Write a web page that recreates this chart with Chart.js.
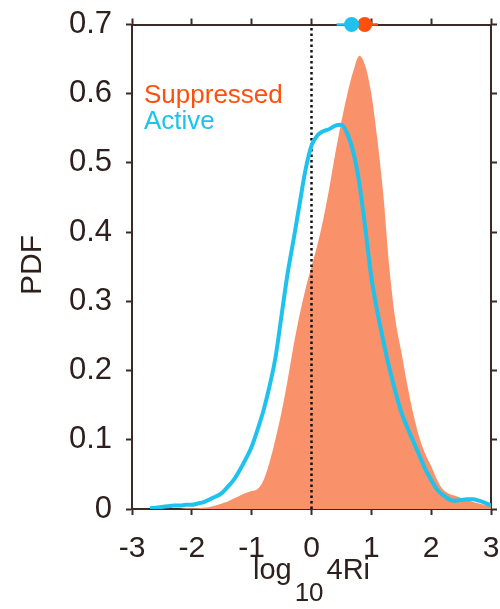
<!DOCTYPE html>
<html>
<head>
<meta charset="utf-8">
<script src="https://cdn.jsdelivr.net/npm/chart.js@4.4.0/dist/chart.umd.min.js"></script>
<style>
    html, body { margin: 0; padding: 0; background: #ffffff; }
    #wrap { width: 500px; height: 609px; position: relative; }
</style>
</head>
<body>
<div id="wrap"><canvas id="pdfChart"></canvas></div>
<script>
// Data
// ========================
const xValues = [
    -3.0, -2.9, -2.8, -2.7, -2.6, -2.5, -2.4, -2.3, -2.2, -2.1,
    -2.0, -1.9, -1.8, -1.7, -1.6, -1.5, -1.4, -1.3, -1.2, -1.1,
    -1.0, -0.9, -0.8, -0.7, -0.6, -0.5, -0.4, -0.3, -0.2, -0.1,
    0.0, 0.1, 0.2, 0.3, 0.4, 0.5, 0.6, 0.7, 0.8, 0.9,
    1.0, 1.1, 1.2, 1.3, 1.4, 1.5, 1.6, 1.7, 1.8, 1.9,
    2.0, 2.1, 2.2, 2.3, 2.4, 2.5, 2.6, 2.7, 2.8, 2.9,
    3.0
];

const suppressedPdf = [
    0, 0, 0, 0, 0, 0, 0, 0, 0, 0.001,
    0.001, 0.001, 0.002, 0.003, 0.005, 0.008, 0.011, 0.015, 0.019, 0.023,
    0.026, 0.029, 0.042, 0.068, 0.102, 0.140, 0.186, 0.236, 0.280, 0.318,
    0.350, 0.382, 0.420, 0.465, 0.515, 0.560, 0.600, 0.633, 0.655, 0.640,
    0.600, 0.535, 0.455, 0.350, 0.275, 0.228, 0.180, 0.138, 0.104, 0.080,
    0.062, 0.042, 0.028, 0.022, 0.019, 0.016, 0.013, 0.010, 0.008, 0.006,
    0.004
];

const activePdf = [
    null, null, null, 0.001, 0.002, 0.003, 0.004, 0.005, 0.005, 0.006,
    0.006, 0.008, 0.010, 0.014, 0.018, 0.023, 0.032, 0.042, 0.056, 0.072,
    0.090, 0.115, 0.143, 0.178, 0.220, 0.280, 0.340, 0.389, 0.440, 0.490,
    0.525, 0.540, 0.546, 0.549, 0.554, 0.555, 0.542, 0.515, 0.470, 0.405,
    0.335, 0.285, 0.243, 0.204, 0.170, 0.140, 0.118, 0.098, 0.078, 0.058,
    0.042, 0.028, 0.020, 0.014, 0.012, 0.013, 0.014, 0.014, 0.012, 0.009,
    0.005
];

// mean and spread markers drawn on the top axis
const activeMean = 0.67;
const activeRange = [0.42, 0.93];
const suppressedMean = 0.89;
const suppressedRange = [0.66, 1.11];
const markerLevel = 0.7;

const xTicks = [-3, -2, -1, 0, 1, 2, 3];
const yTicks = [0, 0.1, 0.2, 0.3, 0.4, 0.5, 0.6, 0.7];

// Colors / fonts
const AXIS_COLOR = '#3b2a26';
const TEXT_COLOR = '#2e201d';
const FILL_RED = '#f9916a';
const RED = '#ff4f0c';
const BLUE = '#1ec2ec';
const FONT = "'Liberation Sans', Arial, Helvetica, sans-serif";

function toPoints(xs, ys) {
    return xs.map((x, i) => ({ x: x, y: ys[i] }));
}

// Text that the built-in title/legend can't do (subscript, inline legend)
const labelsPlugin = {
    id: 'labels',
    afterDraw(chart) {
        const ctx = chart.ctx;
        const area = chart.chartArea;
        ctx.save();

        // inline legend
        ctx.font = '26px ' + FONT;
        ctx.textAlign = 'left';
        ctx.textBaseline = 'alphabetic';
        ctx.fillStyle = RED;
        ctx.fillText('Suppressed', area.left + 12, 103);
        ctx.fillStyle = BLUE;
        ctx.fillText('Active', area.left + 12, 129);

        // y axis title
        ctx.fillStyle = TEXT_COLOR;
        ctx.font = '30px ' + FONT;
        ctx.translate(41, 265);
        ctx.rotate(-Math.PI / 2);
        ctx.textAlign = 'center';
        ctx.fillText('PDF', 0, 0);
        ctx.setTransform(1, 0, 0, 1, 0, 0);

        // x axis title: log10 4Ri with subscript
        const big = '29px ' + FONT;
        const small = '26px ' + FONT;
        const gap = 3;
        ctx.font = big;
        const wLog = ctx.measureText('log').width;
        const wRi = ctx.measureText('4Ri').width;
        ctx.font = small;
        const wSub = ctx.measureText('10').width;
        const total = wLog + wSub + wRi + 2 * gap;
        let x = (area.left + area.right) / 2 - total / 2;
        const base = 579;
        ctx.textAlign = 'left';
        ctx.font = big;
        ctx.fillText('log', x, base);
        x += wLog + gap;
        ctx.font = small;
        ctx.fillText('10', x, base + 22);
        x += wSub + gap;
        ctx.font = big;
        ctx.fillText('4Ri', x, base);

        ctx.restore();
    }
};

// Fixed box sizes so the plot area lands where the original one is
function fixBox(size, key) {
    return function(s) {
        s[key] = size;
        s.paddingLeft = 0;
        s.paddingRight = 0;
        s.paddingTop = 0;
        s.paddingBottom = 0;
    };
}

const axisGrid = {
    drawOnChartArea: false,
    drawTicks: true,
    tickLength: 6,
    tickWidth: 2,
    color: AXIS_COLOR
};
const axisBorder = { display: true, color: AXIS_COLOR, width: 2 };

const ctx = document.getElementById('pdfChart');
const pdfChart = new Chart(ctx, {
    type: 'line',
    data: {
        datasets: [
            {
                label: 'Active mean',
                data: [{ x: activeMean, y: markerLevel }],
                showLine: false,
                pointRadius: 7.5,
                pointBackgroundColor: BLUE,
                pointBorderWidth: 0,
                clip: false,
                order: 0
            },
            {
                label: 'Suppressed mean',
                data: [{ x: suppressedMean, y: markerLevel }],
                showLine: false,
                pointRadius: 7.5,
                pointBackgroundColor: RED,
                pointBorderWidth: 0,
                clip: false,
                order: 1
            },
            {
                label: 'Active range',
                data: activeRange.map(v => ({ x: v, y: markerLevel })),
                borderColor: BLUE,
                borderWidth: 2.5,
                pointRadius: 0,
                clip: false,
                order: 2
            },
            {
                label: 'Suppressed range',
                data: suppressedRange.map(v => ({ x: v, y: markerLevel })),
                borderColor: RED,
                borderWidth: 2.5,
                pointRadius: 0,
                clip: false,
                order: 3
            },
            {
                label: 'Active',
                data: toPoints(xValues, activePdf),
                borderColor: BLUE,
                borderWidth: 4,
                pointRadius: 0,
                cubicInterpolationMode: 'monotone',
                fill: false,
                order: 4
            },
            {
                label: 'zero',
                data: [{ x: 0, y: 0 }, { x: 0, y: 0.7 }],
                borderColor: '#111111',
                borderWidth: 2.5,
                borderDash: [2.5, 3],
                pointRadius: 0,
                order: 5
            },
            {
                label: 'Suppressed',
                data: toPoints(xValues, suppressedPdf),
                borderWidth: 0,
                borderColor: FILL_RED,
                backgroundColor: FILL_RED,
                pointRadius: 0,
                cubicInterpolationMode: 'monotone',
                fill: 'origin',
                order: 6
            }
        ]
    },
    options: {
        responsive: true,
        maintainAspectRatio: false,
        animation: false,
        layout: { padding: 0 },
        plugins: {
            legend: { display: false },
            tooltip: { enabled: false }
        },
        scales: {
            x: {
                type: 'linear',
                position: 'bottom',
                min: -3,
                max: 3,
                afterBuildTicks: s => { s.ticks = xTicks.map(v => ({ value: v })); },
                afterFit: fixBox(100, 'height'),
                ticks: {
                    padding: 16,
                    color: TEXT_COLOR,
                    font: { family: FONT, size: 30 }
                },
                grid: axisGrid,
                border: axisBorder
            },
            x2: {
                type: 'linear',
                axis: 'x',
                position: 'top',
                min: -3,
                max: 3,
                afterBuildTicks: s => { s.ticks = xTicks.map(v => ({ value: v })); },
                afterFit: fixBox(24.5, 'height'),
                ticks: { display: false },
                grid: axisGrid,
                border: axisBorder
            },
            y: {
                type: 'linear',
                position: 'left',
                min: 0,
                max: 0.7,
                afterBuildTicks: s => { s.ticks = yTicks.map(v => ({ value: v })); },
                afterFit: fixBox(132, 'width'),
                ticks: {
                    padding: 14,
                    color: TEXT_COLOR,
                    font: { family: FONT, size: 31 },
                    callback: v => (v === 0 ? '0' : v.toFixed(1))
                },
                grid: axisGrid,
                border: axisBorder
            },
            y2: {
                type: 'linear',
                axis: 'y',
                position: 'right',
                min: 0,
                max: 0.7,
                afterBuildTicks: s => { s.ticks = yTicks.map(v => ({ value: v })); },
                afterFit: fixBox(9, 'width'),
                ticks: { display: false },
                grid: axisGrid,
                border: axisBorder
            }
        }
    },
    plugins: [labelsPlugin]
});
</script>
</body>
</html>
